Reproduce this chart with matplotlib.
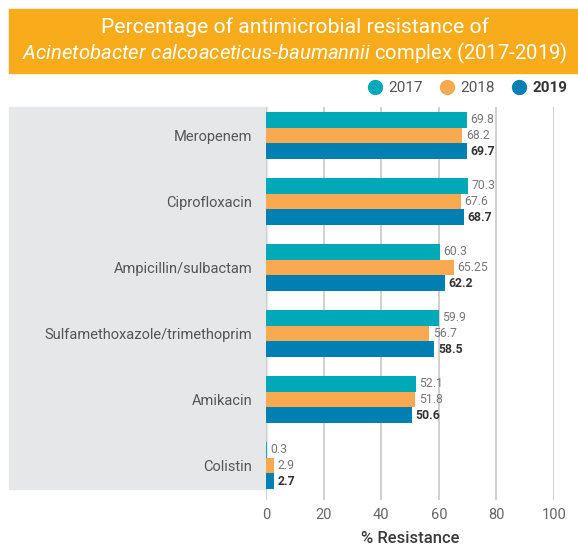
import matplotlib.pyplot as plt
from matplotlib.patches import Rectangle
from matplotlib.lines import Line2D
import numpy as np

plt.rcParams['font.family'] = ['Roboto', 'DejaVu Sans']
plt.rcParams['mathtext.fontset'] = 'custom'
plt.rcParams['mathtext.rm'] = 'Roboto'
plt.rcParams['mathtext.it'] = 'Roboto:italic'

drugs = ['Meropenem', 'Ciprofloxacin', 'Ampicillin/sulbactam',
         'Sulfamethoxazole/trimethoprim', 'Amikacin', 'Colistin']
years = ['2017', '2018', '2019']
r2017 = [69.8, 70.3, 60.3, 59.9, 52.1, 0.3]
r2018 = [68.2, 67.6, 65.25, 56.7, 51.8, 2.9]
r2019 = [69.7, 68.7, 62.2, 58.5, 50.6, 2.7]
colors = ['#00A9B7', '#F9A94F', '#0080B2']

W, H = 578, 552
fig = plt.figure(figsize=(W / 100, H / 100), dpi=100)

def fx(px):
    return px / W

def fy(py):
    return 1 - py / H

# title banner
fig.patches.append(Rectangle((fx(9), fy(73)), fx(569), 64 / H,
                             transform=fig.transFigure, color='#F9AC1B', zorder=0))
fig.text(fx(295), fy(27), 'Percentage of antimicrobial resistance of',
         ha='center', va='center', color='white', fontsize=15.2)
fig.text(fx(295), fy(53),
         r'$\it{Acinetobacter\ calcoaceticus}$-$\it{baumannii}$ complex (2017-2019)',
         ha='center', va='center', color='white', fontsize=14.6)

# grey panel behind category labels
fig.patches.append(Rectangle((fx(9), fy(489)), fx(258), 382 / H,
                             transform=fig.transFigure, color='#E6E7E8', zorder=0))

ax = fig.add_axes([fx(266), fy(500), fx(288), 393 / H], zorder=2)
ax.patch.set_alpha(0)

y = np.arange(len(drugs))
h = 0.237
series = [r2017, r2018, r2019]
for i, vals in enumerate(series):
    pos = y + (i - 1) * h
    ax.barh(pos, vals, height=h, color=colors[i], zorder=3)
    for p, v in zip(pos, vals):
        txt = f'{v:g}'
        if i == 2:
            ax.text(v + 1.2, p, txt, va='center', ha='left', fontsize=8.8,
                    color='#333333', fontweight='bold')
        else:
            ax.text(v + 1.2, p, txt, va='center', ha='left', fontsize=8.8,
                    color='#777777')

ax.set_xlim(0, 100)
ax.set_ylim(5.52, -0.43)
ax.set_xticks([0, 20, 40, 60, 80, 100])
ax.set_yticks(y)
ax.set_yticklabels(drugs, fontsize=10.5, color='#555555')
ax.tick_params(axis='y', length=0, pad=10)
ax.tick_params(axis='x', length=0, labelsize=10.5, labelcolor='#666666', pad=6)
ax.grid(axis='x', color='#C8C8C8', linewidth=1.2, zorder=0)
for s in ax.spines.values():
    s.set_visible(False)
ax.set_xlabel('% Resistance', fontsize=12, color='#3a3a3a', labelpad=6,
              fontweight='medium')

handles = [Line2D([], [], marker='o', linestyle='', markersize=10,
                  color=c) for c in colors]
leg = fig.legend(handles, years, loc='center right', bbox_to_anchor=(1.005, fy(88)),
                 ncol=3, frameon=False, fontsize=11, handlelength=0.9,
                 handletextpad=0.4, columnspacing=1.15)
for t in leg.get_texts():
    t.set_color('#555555')
leg.get_texts()[2].set_fontweight('bold')
leg.get_texts()[2].set_color('#333333')

fig.savefig('out.png', dpi=100)
